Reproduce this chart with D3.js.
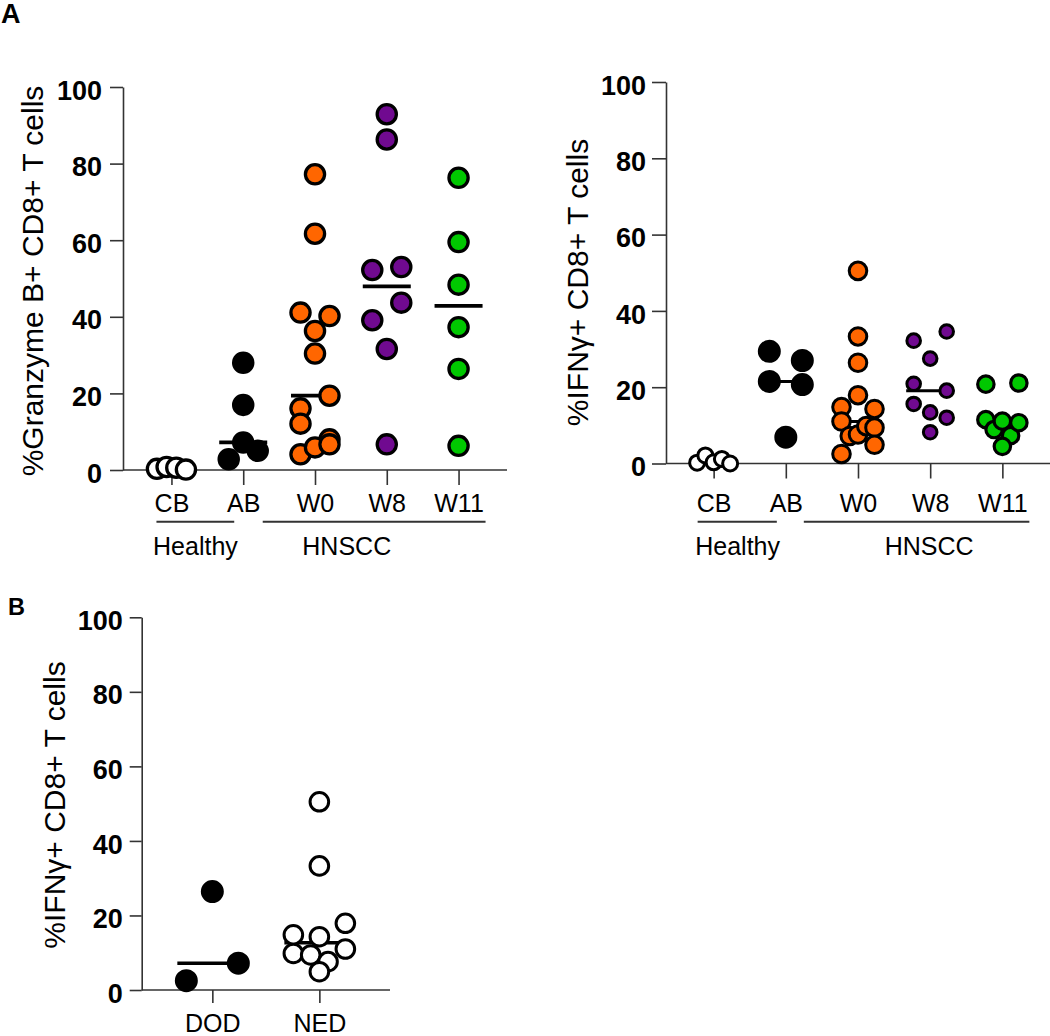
<!DOCTYPE html>
<html><head><meta charset="utf-8">
<script src="https://cdn.jsdelivr.net/npm/d3@7"></script>
<style>
body{margin:0;background:#fff}
svg{display:block}
text{font-family:"Liberation Sans",Arial,Helvetica,sans-serif;fill:#000}
</style>
</head><body>
<svg id="chart" width="1050" height="1036"></svg>
<script>
// ---------------- data ----------------
const groupsA = ["CB", "AB", "W0", "W8", "W11"];
const groupsB = ["DOD", "NED"];
const yTicks = [0, 20, 40, 60, 80, 100];
const cohortLabels = ["Healthy", "HNSCC"];
const titleGzmb = "%Granzyme B+ CD8+ T cells";
const titleIfng = "%IFNγ+ CD8+ T cells";

// %Granzyme B+ CD8+ T cells
const gzmbCB  = [0.3, 0.8, 0.6, 0.1];
const gzmbAB  = [28.0, 17.0, 2.8, 7.2, 5.0];
const gzmbW0  = [77.2, 61.7, 41.1, 36.3, 40.2, 30.4, 16.1, 19.4, 12.1, 8.0, 4.1, 5.9, 6.7];
const gzmbW8  = [92.9, 86.3, 52.2, 53.0, 39.1, 43.7, 31.6, 6.7];
const gzmbW11 = [76.3, 59.5, 48.4, 37.3, 26.4, 6.3];

// %IFNγ+ CD8+ T cells
const ifngCB  = [0.2, 2.1, 0.3, 1.2, 0.0];
const ifngAB  = [29.4, 27.0, 21.5, 20.7, 6.9];
const ifngW0  = [50.5, 33.3, 26.4, 14.8, 17.9, 14.3, 11.0, 7.2, 7.6, 9.8, 9.4, 2.5, 4.9];
const ifngW8  = [32.2, 34.6, 27.5, 20.9, 19.1, 15.6, 13.4, 12.0, 8.2];
const ifngW11 = [20.8, 21.1, 11.5, 8.9, 11.1, 7.3, 10.7, 4.5];

// panel B: %IFNγ+ CD8+ T cells by outcome
const ifngDOD = [26.4, 2.5, 7.2];
const ifngNED = [50.5, 33.3, 14.8, 14.3, 17.9, 9.8, 9.4, 7.6, 11.0, 4.9];

// ---------------- styles ----------------
const FONT_TICK = 27, FONT_CAT = 25, FONT_TITLE = 30;
const AXIS_COLOR = "#333";
const fills = {white: "#ffffff", black: "#000000", orange: "#FF6600", purple: "#700A90", green: "#00C800"};

const svg = d3.select("#chart");

// row-based scatter arrangement (GraphPad-like): close values share a row, spread evenly
function rowOffsets(values, y, diam, wmax) {
  const H = 0.9 * diam;
  const idx = d3.range(values.length).sort((a, b) => values[b] - values[a]);
  const off = new Array(values.length).fill(0);
  let i = 0;
  while (i < idx.length) {
    const top = y(values[idx[i]]);
    const row = [idx[i]];
    let j = i + 1;
    while (j < idx.length && y(values[idx[j]]) - top <= H) { row.push(idx[j]); j++; }
    row.sort((a, b) => a - b);
    const n = row.length;
    row.forEach((k, m) => { off[k] = n === 1 ? 0 : (m - (n - 1) / 2) * wmax / (n - 1); });
    i = j;
  }
  return off;
}

function panel(cfg) {
  const g = svg.append("g");
  const x = d3.scalePoint().domain(cfg.cats).range([cfg.xl, cfg.xr]).padding(cfg.pad);
  const y = d3.scaleLinear().domain([0, 100]).range([cfg.yb, cfg.yt]);

  // y axis
  const ya = g.append("g").attr("transform", `translate(${cfg.xl},0)`)
    .call(d3.axisLeft(y).tickValues(yTicks).tickSize(cfg.yTick).tickSizeOuter(0).tickPadding(cfg.yPad));
  ya.select(".domain").attr("stroke", AXIS_COLOR).attr("stroke-width", 1.6);
  ya.selectAll(".tick line").attr("stroke", AXIS_COLOR).attr("stroke-width", 1.6);
  ya.selectAll(".tick text").attr("font-size", FONT_TICK).attr("font-weight", "bold")
    .attr("font-family", '"Liberation Sans",Arial,sans-serif').attr("fill", "#000").attr("dy", "0.45em");

  // x axis
  const xa = g.append("g").attr("transform", `translate(0,${cfg.yb})`)
    .call(d3.axisBottom(x).tickSize(cfg.xTick).tickSizeOuter(0).tickPadding(cfg.xPad));
  xa.select(".domain").attr("stroke", AXIS_COLOR).attr("stroke-width", 1.6)
    .attr("d", `M${cfg.xl},0H${cfg.xr}`);
  xa.selectAll(".tick line").attr("stroke", AXIS_COLOR).attr("stroke-width", 1.6);
  xa.selectAll(".tick text").attr("font-size", FONT_CAT).attr("font-weight", "normal")
    .attr("font-family", '"Liberation Sans",Arial,sans-serif').attr("fill", "#000");

  // y title
  g.append("text")
    .attr("transform", `translate(${cfg.titleX},${cfg.titleY}) rotate(-90)`)
    .attr("text-anchor", "middle").attr("font-size", FONT_TITLE).text(cfg.title);

  // median lines (behind points)
  cfg.series.forEach(s => {
    const cx = x(s.cat), m = d3.median(s.values);
    g.append("line")
      .attr("x1", cx - cfg.medL).attr("x2", cx + cfg.medR)
      .attr("y1", y(m)).attr("y2", y(m))
      .attr("stroke", "#000").attr("stroke-width", cfg.medW);
  });

  // points
  cfg.series.forEach(s => {
    const cx = x(s.cat);
    const diam = 2 * s.r + s.sw;
    const off = rowOffsets(s.values, y, diam, cfg.rowW);
    g.append("g").selectAll("circle").data(s.values).join("circle")
      .attr("cx", (d, i) => cx + off[i]).attr("cy", d => y(d))
      .attr("r", s.r).attr("fill", fills[s.fill])
      .attr("stroke", "#000").attr("stroke-width", s.sw);
  });

  // cohort bars
  if (cfg.cohorts) {
    cfg.cohorts.forEach((c, i) => {
      const x1 = x(c.from) + c.dx1, x2 = x(c.to) + c.dx2;
      g.append("line").attr("x1", x1).attr("x2", x2).attr("y1", 521.7).attr("y2", 521.7)
        .attr("stroke", AXIS_COLOR).attr("stroke-width", 2);
      g.append("text").attr("x", x(c.textAt) + c.tdx).attr("y", 555)
        .attr("text-anchor", "middle").attr("font-size", FONT_CAT).text(cohortLabels[i]);
    });
  }
  return g;
}

// Panel A left: Granzyme B
panel({
  cats: groupsA, xl: 123, xr: 507, pad: 0.675, yb: 470, yt: 87,
  yTick: 13, yPad: 8, xTick: 15, xPad: 9, rowW: 29,
  title: titleGzmb, titleX: 43, titleY: 281,
  medL: 24, medR: 24, medW: 3.8,
  series: [
    {cat: "CB", values: gzmbCB, fill: "white", r: 9.6, sw: 3.3},
    {cat: "AB", values: gzmbAB, fill: "black", r: 9.6, sw: 3.3},
    {cat: "W0", values: gzmbW0, fill: "orange", r: 9.6, sw: 3.3},
    {cat: "W8", values: gzmbW8, fill: "purple", r: 9.6, sw: 3.3},
    {cat: "W11", values: gzmbW11, fill: "green", r: 9.6, sw: 3.3}
  ],
  cohorts: [
    {from: "CB", to: "AB", dx1: -15, dx2: -9, textAt: "CB", tdx: 24},
    {from: "AB", to: "W11", dx1: 19.5, dx2: 27, textAt: "W8", tdx: -40}
  ]
});

// Panel A right: IFNγ
panel({
  cats: groupsA, xl: 666, xr: 1050, pad: 0.66, yb: 463.5, yt: 82,
  yTick: 14, yPad: 6, xTick: 15, xPad: 15.5, rowW: 33,
  title: titleIfng, titleX: 588, titleY: 282.5,
  medL: 24, medR: 24, medW: 3,
  series: [
    {cat: "CB", values: ifngCB, fill: "white", r: 7.5, sw: 3},
    {cat: "AB", values: ifngAB, fill: "black", r: 10, sw: 3},
    {cat: "W0", values: ifngW0, fill: "orange", r: 8.8, sw: 3},
    {cat: "W8", values: ifngW8, fill: "purple", r: 6.8, sw: 3},
    {cat: "W11", values: ifngW11, fill: "green", r: 8.2, sw: 3.2}
  ],
  cohorts: [
    {from: "CB", to: "AB", dx1: -16, dx2: -9, textAt: "CB", tdx: 24},
    {from: "AB", to: "W11", dx1: 18, dx2: 27, textAt: "W8", tdx: -1}
  ]
});

// Panel B
panel({
  cats: groupsB, xl: 141.7, xr: 390, pad: 0.66, yb: 990, yt: 617.3,
  yTick: 12, yPad: 7, xTick: 13, xPad: 11, rowW: 52,
  title: titleIfng, titleX: 65, titleY: 805,
  medL: 35, medR: 28, medW: 3.5,
  series: [
    {cat: "DOD", values: ifngDOD, fill: "black", r: 10, sw: 3},
    {cat: "NED", values: ifngNED, fill: "white", r: 9.3, sw: 3}
  ]
});

// panel letters
svg.append("text").attr("x", 1).attr("y", 23).attr("font-size", 27).attr("font-weight", "bold").text("A");
svg.append("text").attr("x", 8).attr("y", 615).attr("font-size", 23.5).attr("font-weight", "bold").text("B");
</script>
</body></html>
